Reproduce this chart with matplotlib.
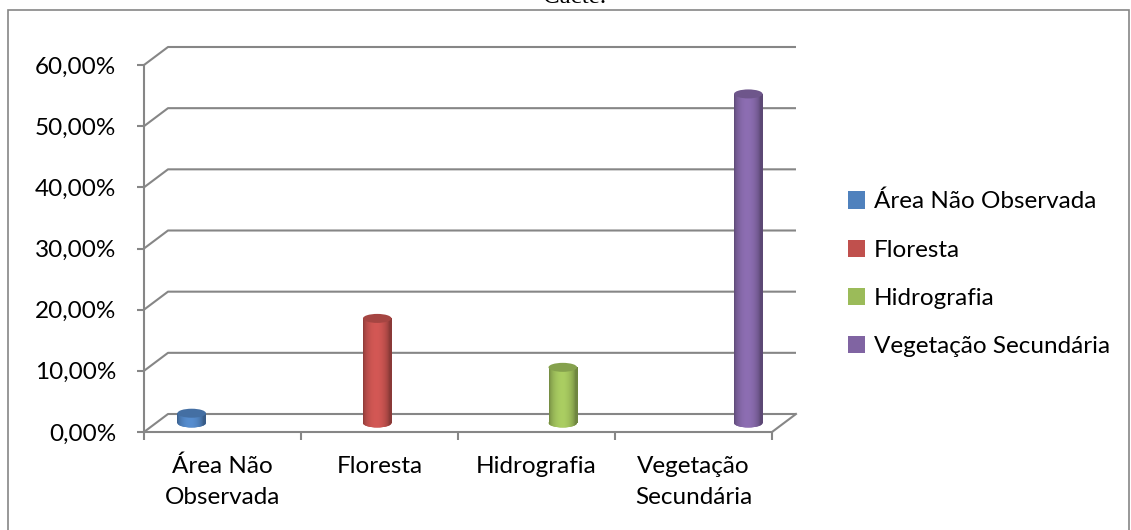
import numpy as np
import matplotlib.pyplot as plt
from matplotlib.patches import Ellipse, Rectangle
from matplotlib.colors import to_rgb

# dados (percentual por classe)
categorias = ["Área Não\nObservada", "Floresta", "Hidrografia", "Vegetação\nSecundária"]
series = ["Área Não Observada", "Floresta", "Hidrografia", "Vegetação Secundária"]
valores = [1.6, 17.1, 9.1, 53.8]
cores = ["#4F81BD", "#C0504D", "#9BBB59", "#8064A2"]
yticks = [0, 10, 20, 30, 40, 50, 60]
ytick_labels = ["0,00%", "10,00%", "20,00%", "30,00%", "40,00%", "50,00%", "60,00%"]

W, H = 1131, 530
GRID = "#868686"

fig = plt.figure(figsize=(W / 100, H / 100), dpi=100)
plt.rcParams['font.family'] = ['Lato', 'DejaVu Sans']

# moldura do grafico
fig.patches.append(Rectangle((8 / W, -0.1), (1129 - 8) / W, (H - 10) / H + 0.1,
                             transform=fig.transFigure, fill=False, ec=GRID, lw=1.2))
fig.text(575 / W, (H - 3) / H, "Cacte.", family='Liberation Serif', fontsize=18,
         ha='center', va='baseline')

ax = fig.add_axes([144 / W, (H - 432) / H, 628 / W, 367 / H])
ncat = len(categorias)

# deslocamento de profundidade (parede do fundo)
dx = 24 / 157
dy = 18 / (367 / 60)

for y in yticks:
    ax.plot([0, dx, ncat + dx], [y, y + dy, y + dy], color=GRID, lw=1.5,
            clip_on=False, zorder=1, solid_capstyle='butt')
ax.plot([ncat, ncat + dx], [0, dy], color=GRID, lw=1.5, clip_on=False, zorder=1)

# cilindros
w = 1 / (len(series) + 1.5)
pos = [i + 0.75 * w + w * (i + 0.5) + dx / 2 for i in range(ncat)]
base = dy / 2
eh = 9 / (367 / 60)

t = np.linspace(0, 1, 64)
shade = 0.72 + 0.38 * np.sin(np.pi * np.clip(t * 1.1, 0, 1)) ** 0.6

handles = []
for x, v, c, lab in zip(pos, valores, cores, series):
    rgb = np.array(to_rgb(c))
    grad = np.clip(shade[None, :, None] * rgb[None, None, :], 0, 1)
    bar = ax.bar(x, v, width=w, bottom=base, color=c, label=lab, zorder=3, lw=0)[0]
    handles.append(bar)
    im = ax.imshow(grad, extent=[x - w / 2, x + w / 2, base, base + v],
                   aspect='auto', zorder=3.1, interpolation='bilinear')
    im.set_clip_path(bar)
    bot = Ellipse((x, base), w, eh, color=c, zorder=3, lw=0)
    ax.add_patch(bot)
    im2 = ax.imshow(grad, extent=[x - w / 2, x + w / 2, base - eh, base + eh],
                    aspect='auto', zorder=3.05, interpolation='bilinear')
    im2.set_clip_path(bot)
    top = Ellipse((x, base + v), w, eh, color=np.clip(rgb * 0.86, 0, 1), zorder=3.2, lw=0)
    ax.add_patch(top)

ax.set_aspect('auto')
ax.set_xlim(0, ncat)
ax.set_ylim(0, 60)

for s in ['top', 'right']:
    ax.spines[s].set_visible(False)
for s in ['left', 'bottom']:
    ax.spines[s].set_color(GRID)
    ax.spines[s].set_linewidth(1.5)
    ax.spines[s].set_zorder(2)

ax.set_yticks(yticks)
ax.set_yticklabels(ytick_labels)
ax.tick_params(axis='y', length=5, width=1.5, color=GRID, pad=15, labelsize=17.5)

ax.set_xticks(range(ncat + 1))
ax.set_xticklabels([])
ax.set_xticks([i + 0.5 for i in range(ncat)], minor=True)
ax.set_xticklabels(categorias, minor=True, fontsize=17.5, linespacing=1.6)
ax.tick_params(axis='x', which='major', length=6, width=1.5, color=GRID)
ax.tick_params(axis='x', which='minor', length=0, pad=17)

fig.legend(handles, series, loc='upper left', bbox_to_anchor=(848 / W, (H - 191) / H),
           frameon=False, fontsize=17.5, handlelength=0.7, handleheight=0.7,
           handletextpad=0.35, labelspacing=1.12, borderaxespad=0, borderpad=0)

fig.savefig("out.png", dpi=100)
